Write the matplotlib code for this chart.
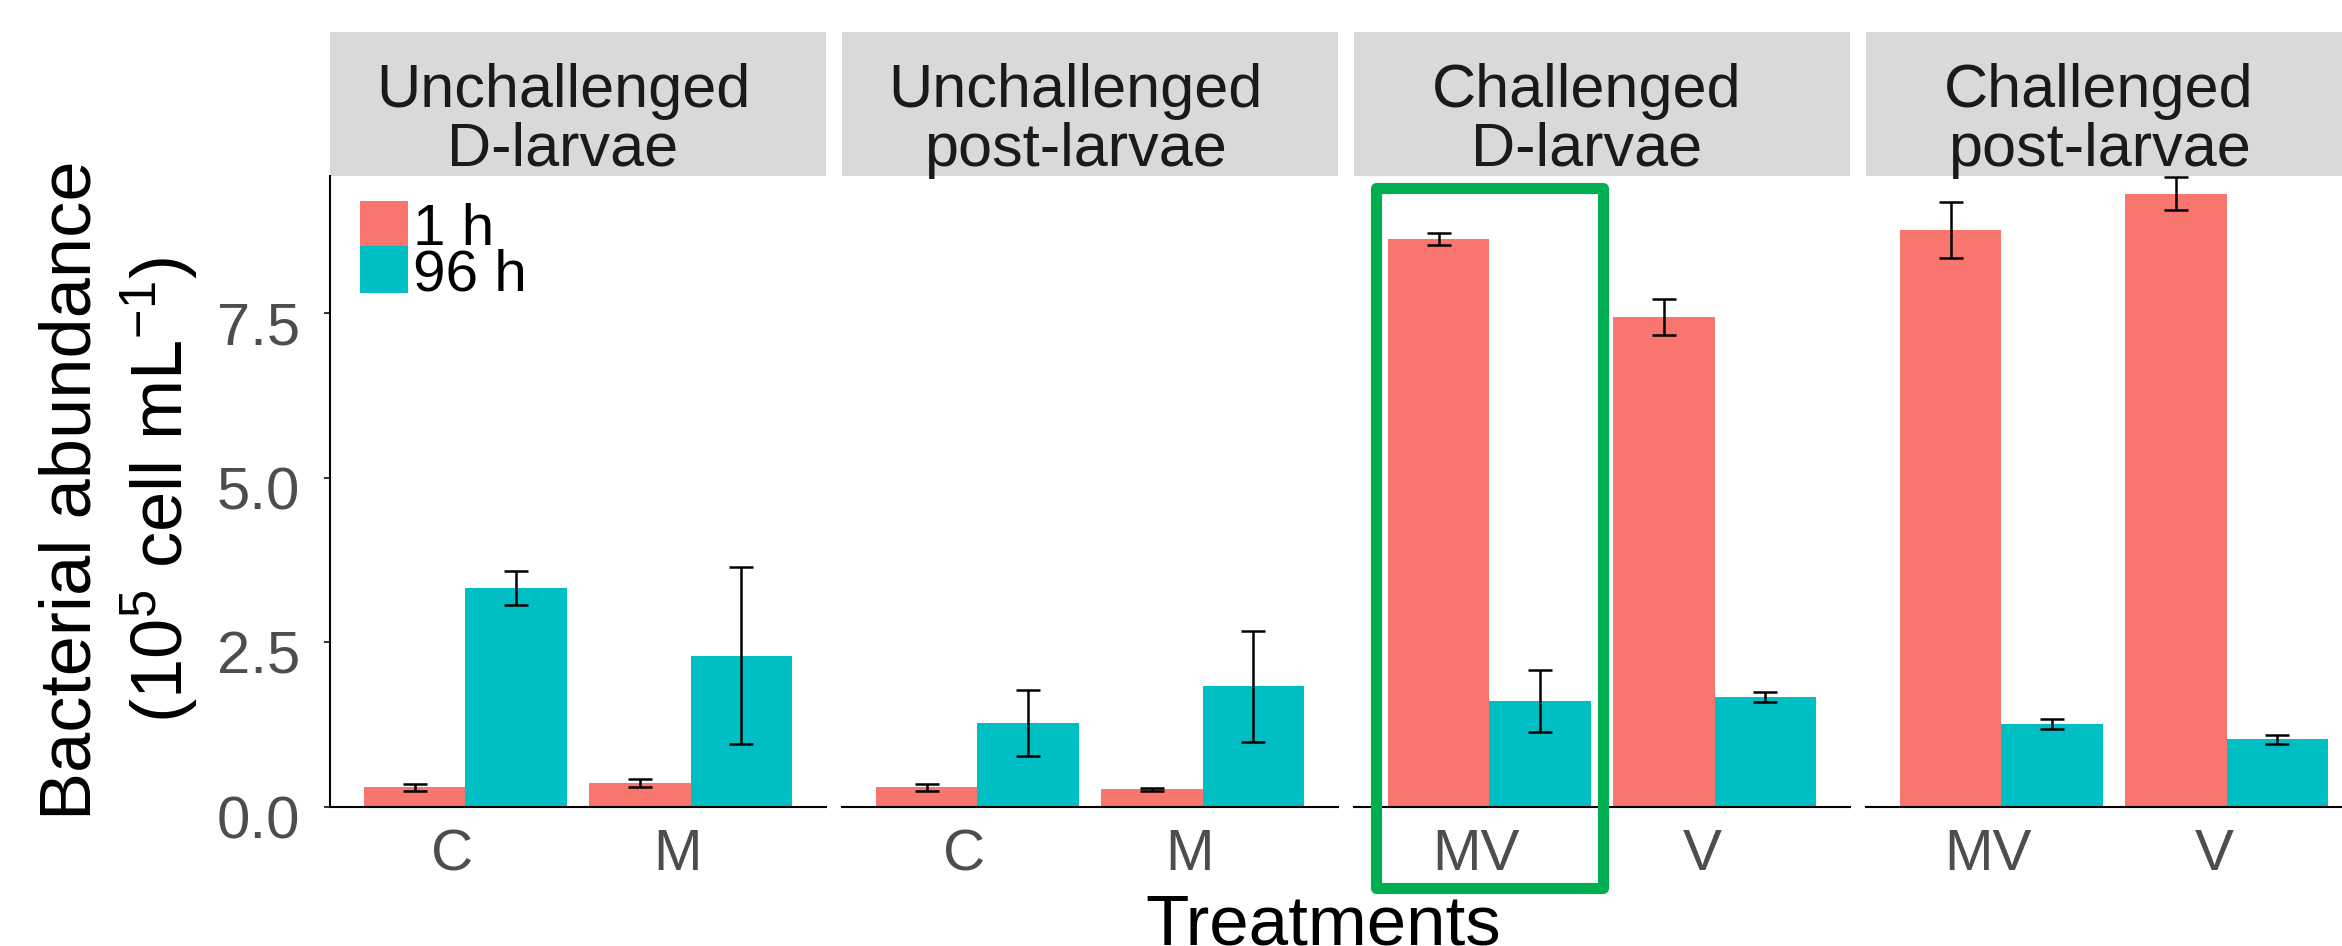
import matplotlib.pyplot as plt
import numpy as np
from matplotlib.patches import Patch, Rectangle
from matplotlib.transforms import ScaledTranslation

plt.rcParams['font.family'] = ['Liberation Sans', 'DejaVu Sans']
plt.rcParams['mathtext.default'] = 'regular'

# facet panels, left to right
panels = ['Unchallenged\nD-larvae', 'Unchallenged\npost-larvae', 'Challenged\nD-larvae', 'Challenged\npost-larvae']
treatments = [['C', 'M'], ['C', 'M'], ['MV', 'V'], ['MV', 'V']]
times = ['1 h', '96 h']

# bacterial abundance (10^5 cell mL-1), one pair per panel in the order of treatments
mean_1h = [[0.30, 0.36], [0.30, 0.27], [8.62, 7.44], [8.76, 9.31]]
err_1h = [[0.05, 0.06], [0.05, 0.02], [0.09, 0.27], [0.42, 0.25]]
mean_96h = [[3.33, 2.30], [1.28, 1.83], [1.61, 1.67], [1.26, 1.03]]
err_96h = [[0.26, 1.34], [0.50, 0.84], [0.47, 0.07], [0.07, 0.07]]

colors = ['#F8766D', '#00BFC4']
yticks = [0.0, 2.5, 5.0, 7.5]
ytop = 9.58

W, H = 2342, 946
fig = plt.figure(figsize=(W / 100, H / 100), dpi=100)

# text in the original sits a bit left and low of the marks
shift = ScaledTranslation(-0.13, -0.10, fig.dpi_scale_trans)
shift_y = ScaledTranslation(0, -0.10, fig.dpi_scale_trans)
shift_strip = ScaledTranslation(-0.15, -0.17, fig.dpi_scale_trans)

bw = 0.45
strip_h = 144 / 631
axes = []
for i in range(4):
    left = 330 + i * 512
    ax = fig.add_axes([left / W, (H - 807) / H, 496 / W, 631 / H])
    axes.append(ax)
    x = np.arange(len(treatments[i]))
    ax.bar(x - bw / 2, mean_1h[i], bw, color=colors[0], zorder=2)
    ax.bar(x + bw / 2, mean_96h[i], bw, color=colors[1], zorder=2)
    ax.errorbar(x - bw / 2, mean_1h[i], yerr=err_1h[i], fmt='none', ecolor='black',
                elinewidth=1.8, capsize=8.5, capthick=1.8, zorder=3)
    ax.errorbar(x + bw / 2, mean_96h[i], yerr=err_96h[i], fmt='none', ecolor='black',
                elinewidth=1.8, capsize=8.5, capthick=1.8, zorder=3)
    ax.set_xlim(-0.6, 1.6)
    ax.set_ylim(0, ytop)
    ax.set_xticks(x)
    ax.set_xticklabels(treatments[i])
    ax.tick_params(axis='x', length=0, pad=8, labelsize=42, labelcolor='#4D4D4D')
    for s in ['top', 'right']:
        ax.spines[s].set_visible(False)
    ax.spines['bottom'].set_linewidth(1.5)
    if i == 0:
        ax.set_yticks(yticks)
        ax.set_yticklabels([f'{v:.1f}' for v in yticks])
        ax.tick_params(axis='y', length=4.3, width=1.4, color='#333333', pad=17,
                       labelsize=43, labelcolor='#4D4D4D')
        ax.spines['left'].set_linewidth(1.5)
        for lab in ax.get_yticklabels():
            lab.set_transform(lab.get_transform() + shift_y)
    else:
        ax.set_yticks([])
        ax.spines['left'].set_visible(False)
    for lab in ax.get_xticklabels():
        lab.set_transform(lab.get_transform() + shift)

    # grey facet strip
    ax.add_patch(Rectangle((0, 1), 1, strip_h, transform=ax.transAxes, clip_on=False,
                           facecolor='#D9D9D9', edgecolor='none'))
    ax.text(0.5, 1 + strip_h / 2, panels[i], transform=ax.transAxes + shift_strip,
            ha='center', va='center', fontsize=44, color='#1A1A1A', linespacing=1.03)

handles = [Patch(facecolor=colors[k], label=times[k]) for k in range(2)]
axes[0].legend(handles=handles, loc='upper left', bbox_to_anchor=(0.06, 0.96), frameon=False,
               fontsize=42, handlelength=0.82, handleheight=0.86, handletextpad=0.1,
               labelspacing=-0.18, borderaxespad=0, borderpad=0)

fig.text(120 / W, 1 - 490 / H, 'Bacterial abundance\n(10$^{5}$ cell mL$^{-1}$)', rotation=90,
         ha='center', va='center', multialignment='center', fontsize=52, linespacing=1.2)
fig.text(1323 / W, (H - 944) / H, 'Treatments', ha='center', va='baseline', fontsize=51)

# green highlight box around the challenged D-larvae MV group
fig.add_artist(Rectangle((1376 / W, (H - 888) / H), 227 / W, 700 / H, transform=fig.transFigure,
                         fill=False, edgecolor='#00B050', linewidth=8, joinstyle='round'))

plt.savefig('out.png', dpi=100)
